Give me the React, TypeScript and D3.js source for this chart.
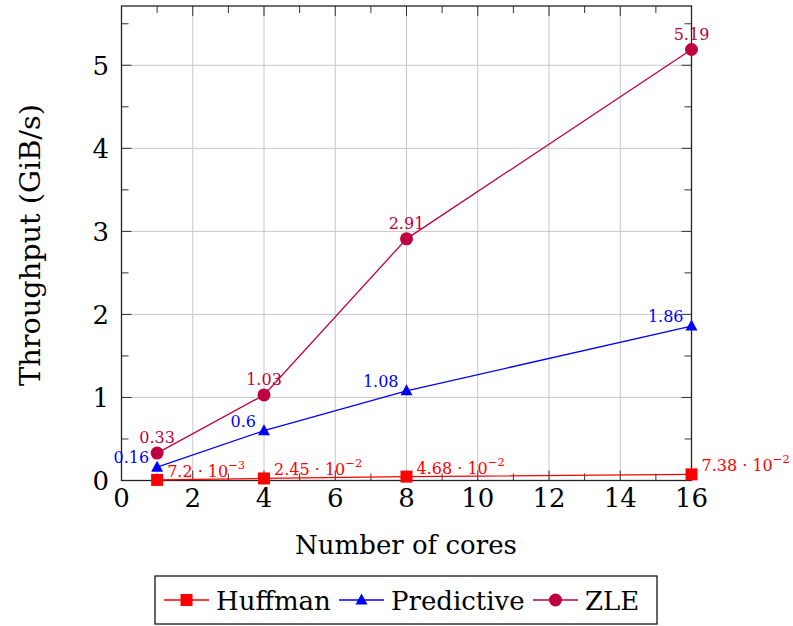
import React from "react";
import * as d3 from "d3";

const cores = [1, 4, 8, 16];
const huffman = [0.0072, 0.0245, 0.0468, 0.0738];
const predictive = [0.16, 0.6, 1.08, 1.86];
const zle = [0.33, 1.03, 2.91, 5.19];
const huffmanLabels = [["7.2", "−3"], ["2.45", "−2"], ["4.68", "−2"], ["7.38", "−2"]];
const predictiveLabels = ["0.16", "0.6", "1.08", "1.86"];
const zleLabels = ["0.33", "1.03", "2.91", "5.19"];
const xTicks = [0, 2, 4, 6, 8, 10, 12, 14, 16];
const yTicks = [0, 1, 2, 3, 4, 5];
const seriesNames = ["Huffman", "Predictive", "ZLE"];

const W = 793, H = 626;
const L = 121.5, R = 691.5, T = 6, B = 480.5;
const FONT = "DejaVu Serif";
const RED = "#ff0000", BLUE = "#0000ff", PURPLE = "#bf0040";

export default function App() {
  const x = d3.scaleLinear().domain([0, 16]).range([L, R]);
  const y = d3.scaleLinear().domain([0, 5.714]).range([B, T]);
  const line = d3.line<number>().x((_, i) => x(cores[i])).y((d) => y(d));
  const xMinor = d3.range(1, 16, 2);
  const yMinor = d3.range(0.5, 5.6, 1);

  const square = (cx: number, cy: number, c: string, k: number) => (
    <rect key={k} x={cx - 6} y={cy - 6} width={12} height={12} fill={c} />
  );
  const tri = (cx: number, cy: number, c: string, k: number) => (
    <path key={k} d={`M${cx},${cy - 6.5}L${cx + 6},${cy + 4.5}L${cx - 6},${cy + 4.5}Z`} fill={c} />
  );
  const circ = (cx: number, cy: number, c: string, k: number) => (
    <circle key={k} cx={cx} cy={cy} r={6.5} fill={c} />
  );

  const legendItems = [
    { name: seriesNames[0], color: RED, mk: square, x0: 164, tx: 216 },
    { name: seriesNames[1], color: BLUE, mk: tri, x0: 339, tx: 391 },
    { name: seriesNames[2], color: PURPLE, mk: circ, x0: 533, tx: 585 },
  ];

  return (
    <svg width={W} height={H} style={{ position: "absolute", left: 0, top: 0 }} fontFamily={FONT}>
      <rect width={W} height={H} fill="#fff" />
      {xTicks.map((t) => (
        <line key={"gx" + t} x1={x(t)} x2={x(t)} y1={T} y2={B} stroke="#c8c8c8" strokeWidth={1} />
      ))}
      {yTicks.map((t) => (
        <line key={"gy" + t} x1={L} x2={R} y1={y(t)} y2={y(t)} stroke="#c8c8c8" strokeWidth={1} />
      ))}
      {xTicks.map((t) => (
        <g key={"tx" + t} stroke="#333" strokeWidth={1}>
          <line x1={x(t)} x2={x(t)} y1={B} y2={B - 10} />
          <line x1={x(t)} x2={x(t)} y1={T} y2={T + 10} />
        </g>
      ))}
      {xMinor.map((t) => (
        <g key={"mx" + t} stroke="#333" strokeWidth={1}>
          <line x1={x(t)} x2={x(t)} y1={B} y2={B - 7} />
          <line x1={x(t)} x2={x(t)} y1={T} y2={T + 7} />
        </g>
      ))}
      {yTicks.map((t) => (
        <g key={"ty" + t} stroke="#333" strokeWidth={1}>
          <line x1={L} x2={L + 10} y1={y(t)} y2={y(t)} />
          <line x1={R} x2={R - 10} y1={y(t)} y2={y(t)} />
        </g>
      ))}
      {yMinor.map((t) => (
        <g key={"my" + t} stroke="#333" strokeWidth={1}>
          <line x1={L} x2={L + 7} y1={y(t)} y2={y(t)} />
          <line x1={R} x2={R - 7} y1={y(t)} y2={y(t)} />
        </g>
      ))}
      <rect x={L} y={T} width={R - L} height={B - T} fill="none" stroke="#222" strokeWidth={1.3} />
      {xTicks.map((t) => (
        <text key={"lx" + t} x={x(t)} y={507} textAnchor="middle" fontSize={26} fill="#000">{t}</text>
      ))}
      {yTicks.map((t) => (
        <text key={"ly" + t} x={109} y={y(t) + 9.5} textAnchor="end" fontSize={26} fill="#000">{t}</text>
      ))}
      <text x={406} y={554} textAnchor="middle" fontSize={26} fill="#000">Number of cores</text>
      <text transform={`translate(40,245) rotate(-90)`} textAnchor="middle" fontSize={27} textLength={282} lengthAdjust="spacingAndGlyphs" fill="#000">Throughput (GiB/s)</text>

      <path d={line(huffman) || ""} fill="none" stroke={RED} strokeWidth={1.3} />
      <path d={line(predictive) || ""} fill="none" stroke={BLUE} strokeWidth={1.3} />
      <path d={line(zle) || ""} fill="none" stroke={PURPLE} strokeWidth={1.3} />
      {huffman.map((v, i) => square(x(cores[i]), y(v), RED, i))}
      {predictive.map((v, i) => tri(x(cores[i]), y(v), BLUE, i))}
      {zle.map((v, i) => circ(x(cores[i]), y(v), PURPLE, i))}

      {zle.map((v, i) => (
        <text key={"zl" + i} x={x(cores[i])} y={y(v) - 10} textAnchor="middle" fontSize={16} fill={PURPLE}>{zleLabels[i]}</text>
      ))}
      {predictive.map((v, i) => (
        <text key={"pl" + i} x={x(cores[i]) - 8} y={y(v) - 4} textAnchor="end" fontSize={16} fill={BLUE}>{predictiveLabels[i]}</text>
      ))}
      {huffman.map((v, i) => (
        <text key={"hl" + i} x={x(cores[i]) + 10} y={y(v) - 3} fontSize={16} fill={RED}>
          {huffmanLabels[i][0]} · 10
          <tspan fontSize={11.5} dy={-8}>{huffmanLabels[i][1]}</tspan>
        </text>
      ))}

      <rect x={155} y={576} width={502} height={48} fill="#fff" stroke="#000" strokeWidth={1.2} />
      {legendItems.map((it, i) => (
        <g key={"lg" + i}>
          <line x1={it.x0} x2={it.x0 + 45} y1={600} y2={600} stroke={it.color} strokeWidth={1.3} />
          {it.mk(it.x0 + 22.5, 600, it.color, 0)}
          <text x={it.tx} y={609.5} fontSize={26} fill="#000">{it.name}</text>
        </g>
      ))}
    </svg>
  );
}
